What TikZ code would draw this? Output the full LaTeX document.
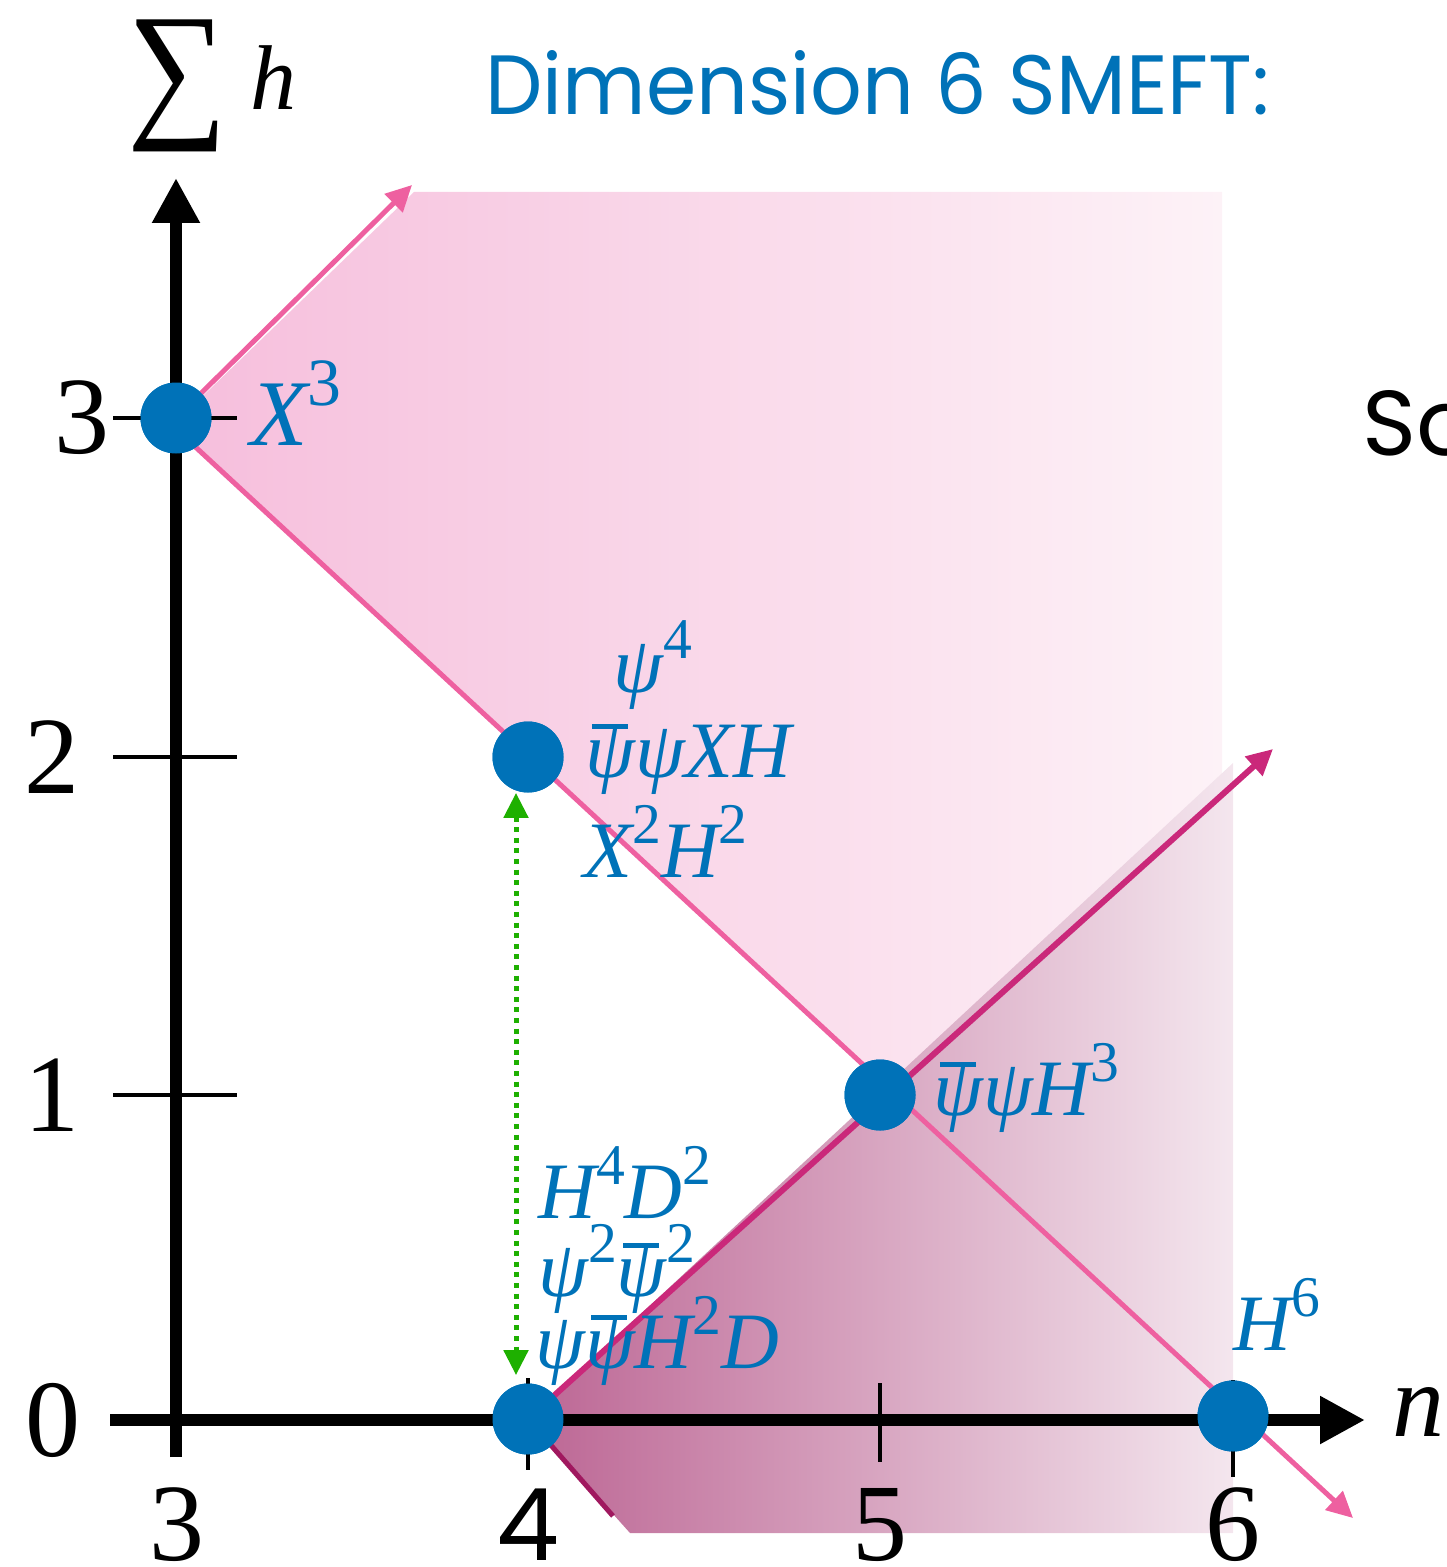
\documentclass[tikz,border=0pt]{standalone}
\usepackage{fontspec}
\usepackage{graphicx}
\setmainfont{Liberation Serif}
\newfontfamily\titlefont{Poppins}
\usetikzlibrary{arrows.meta}
\definecolor{blueL}{RGB}{0,114,184}
\definecolor{pinkline}{RGB}{238,96,160}
\definecolor{magline}{RGB}{202,40,122}
\definecolor{darkmag}{RGB}{160,24,95}
\definecolor{pinkL}{RGB}{246,190,220}
\definecolor{pinkR}{RGB}{253,242,247}
\definecolor{mauveL}{RGB}{188,102,148}
\definecolor{mauveR}{RGB}{244,230,238}
\definecolor{greenA}{RGB}{30,176,0}
\newcommand\sps[1]{\raisebox{0.42em}{\scalebox{0.72}{\upshape #1}}}
\newcommand\psib{\rlap{\hspace{0.08em}\raisebox{0.6em}{\rule{0.45em}{0.065em}}}ψ}
\tikzset{
  dot/.style={circle, fill=blueL, minimum size=35.5pt, inner sep=0pt},
  lab/.style={text=blueL, font=\fontsize{40}{42}\selectfont\itshape, inner sep=0pt, anchor=base west},
  ticklab/.style={font=\fontsize{55}{60}\selectfont, inner sep=0pt, anchor=center},
  axisline/.style={line width=6pt, -{Triangle[length=22.5pt,width=22.5pt]}},
  tickline/.style={line width=2pt},
  pinkarrow/.style={draw=pinkline, line width=2.5pt, -{Triangle[length=13pt,width=12.5pt]}},
  magarrow/.style={draw=magline, line width=3pt, -{Triangle[length=13pt,width=12.5pt]}},
  greenarrow/.style={draw=greenA, line width=2.5pt, dash pattern=on 2.5pt off 2.8pt,
     {Triangle[length=12.5pt,width=12pt]}-{Triangle[length=12.5pt,width=12pt]}}
}
\begin{document}
\begin{tikzpicture}[x=0.5pt,y=-0.5pt]
\useasboundingbox (0,0) rectangle (1446,1567);
% shaded regions
\shade[left color=pinkL, right color=pinkR]
  (180,418) -- (414,192) -- (1222,192) -- (1222,1398) -- (176,429) -- cycle;
\shade[left color=mauveL, right color=mauveR]
  (528,1419) -- (1233,763) -- (1233,1533) -- (630,1533) -- cycle;
% points
\coordinate (tA) at (412,185);
\coordinate (tDesc) at (1353,1518);
\coordinate (tAsc) at (1273,749);
\coordinate (dEnd) at (613,1516);
\node[dot] (A) at (176,418) {};
\node[dot] (B) at (528,757) {};
\node[dot] (C) at (880,1095) {};
\node[dot] (D) at (528,1419) {};
\node[dot] (E) at (1233,1416) {};
% lines
\draw[pinkarrow] (A.center) -- (tA);
\draw[pinkarrow] ([yshift=-5.5pt]A.center) -- (tDesc);
\draw[magarrow] (D.center) -- (tAsc);
\draw[draw=darkmag, line width=2.5pt] (D.center) -- (dEnd);
% axes
\coordinate (xs) at (110,1420);
\coordinate (xe) at (1365,1420);
\coordinate (ys) at (176,1457);
\coordinate (ye) at (176,178);
\draw[axisline] (xs) -- (xe);
\draw[axisline] (ys) -- (ye);
% ticks
\draw[tickline] (113,418) -- (237,418);
\draw[tickline] (113,757) -- (237,757);
\draw[tickline] (113,1095) -- (237,1095);
\draw[tickline] (528,1378) -- (528,1470);
\draw[tickline] (880,1383) -- (880,1462);
\draw[tickline] (1233,1380) -- (1233,1477);
% green arrow
\draw[greenarrow, shorten >=4pt] ([xshift=-6pt]B.south) -- ([xshift=-6pt]D.north);
% dots on top
\node[dot] at (A.center) {};
\node[dot] at (B.center) {};
\node[dot] at (C.center) {};
\node[dot] at (D.center) {};
\node[dot] at (E.center) {};
% tick labels
\node[ticklab] (y3) at (82,418) {3};
\node[ticklab] (y2) at (52,757) {2};
\node[ticklab] (y1) at (52,1095) {1};
\node[ticklab] (y0) at (53,1420) {0};
\node[ticklab] (x3) at (177,1525) {3};
\node[ticklab, font=\fontsize{50}{56}\titlefont] (x4) at (528,1525) {4};
\node[ticklab] (x5) at (880,1525) {5};
\node[ticklab] (x6) at (1233,1525) {6};
% axis labels
\node[inner sep=0pt] (sig) at (177,86) {\resizebox*{50pt}{66pt}{∑}};
\node[inner sep=0pt, anchor=base west, font=\fontsize{46}{50}\selectfont\itshape] (hl) at (250,110) {h};
\node[inner sep=0pt, anchor=base west, font=\fontsize{52}{56}\selectfont\itshape] (nl) at (1392,1436) {n};
% operator labels
\node[lab, font=\fontsize{47}{50}\selectfont\itshape] (lX) at (250,445) {X\sps{3}};
\node[lab] (l1a) at (613,692) {ψ\sps{4}};
\node[lab] (l1b) at (585,777) {\psib ψXH};
\node[lab] (l1c) at (583,877) {X\sps{2}H\sps{2}};
\node[lab] (l2a) at (538,1218) {H\sps{4}D\sps{2}};
\node[lab] (l2b) at (538,1296) {ψ\sps{2}\psib\sps{2}};
\node[lab] (l2c) at (535,1368) {ψ\psib H\sps{2}D};
\node[lab] (l3) at (933,1115) {\psib ψH\sps{3}};
\node[lab] (l4) at (1233,1350) {H\sps{6}};
% title
\node[anchor=base west, text=blueL, inner sep=0pt] (title) at (485,115) {\resizebox{392pt}{32pt}{\titlefont Dimension 6 SMEFT:}};
\node[anchor=base west, inner sep=0pt] (so) at (1362,455) {\resizebox{!}{32.5pt}{\titlefont So}};
\end{tikzpicture}
\end{document}
